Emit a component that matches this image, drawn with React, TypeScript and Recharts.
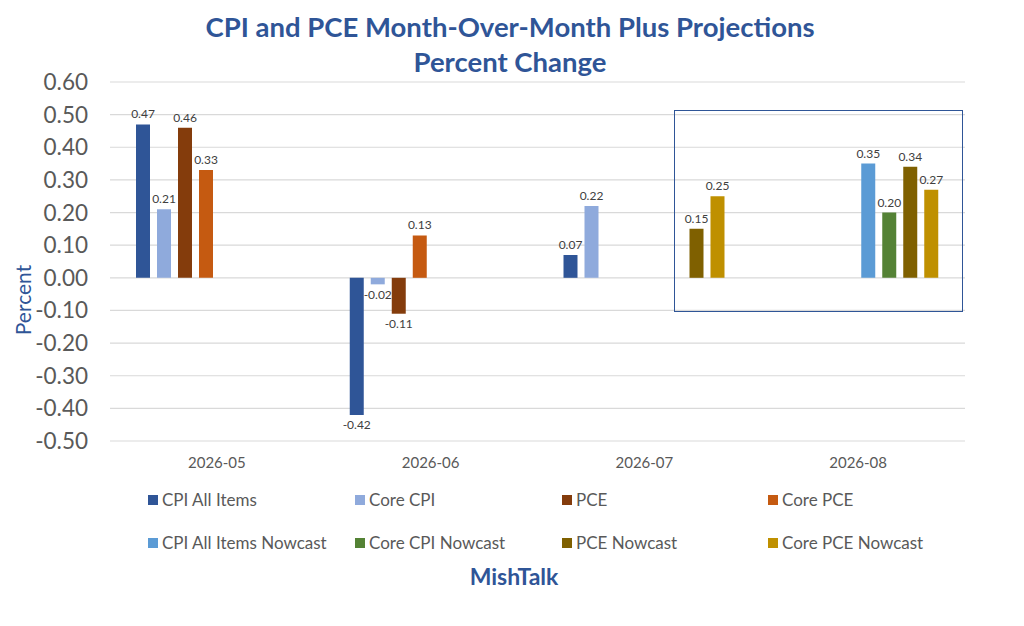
import React from "react";
import { BarChart, Bar, XAxis, YAxis, CartesianGrid, LabelList } from "recharts";

const months = ["2026-05", "2026-06", "2026-07", "2026-08"];

const cpiAll = [0.47, -0.42, 0.07, null];
const coreCpi = [0.21, -0.02, 0.22, null];
const pce = [0.46, -0.11, null, null];
const corePce = [0.33, 0.13, null, null];
const cpiNowcast = [null, null, null, 0.35];
const coreCpiNowcast = [null, null, null, 0.2];
const pceNowcast = [null, null, 0.15, 0.34];
const corePceNowcast = [null, null, 0.25, 0.27];

const yTicks = [-0.5, -0.4, -0.3, -0.2, -0.1, 0, 0.1, 0.2, 0.3, 0.4, 0.5, 0.6];

const series = [
  { key: "cpiAll", name: "CPI All Items", values: cpiAll, color: "#2F5597" },
  { key: "coreCpi", name: "Core CPI", values: coreCpi, color: "#8FAADC" },
  { key: "pce", name: "PCE", values: pce, color: "#843C0C" },
  { key: "corePce", name: "Core PCE", values: corePce, color: "#C55A11" },
  { key: "cpiNowcast", name: "CPI All Items Nowcast", values: cpiNowcast, color: "#5B9BD5" },
  { key: "coreCpiNowcast", name: "Core CPI Nowcast", values: coreCpiNowcast, color: "#548235" },
  { key: "pceNowcast", name: "PCE Nowcast", values: pceNowcast, color: "#7F6000" },
  { key: "corePceNowcast", name: "Core PCE Nowcast", values: corePceNowcast, color: "#BF9000" },
];

const data = months.map((m, i) => {
  const row: Record<string, string | number | null> = { month: m };
  series.forEach((s) => {
    row[s.key] = s.values[i];
  });
  return row;
});

const FONT = "Lato, 'Open Sans', sans-serif";
const BLUE = "#2F5597";
const GRAY = "#595959";

// legend column positions (left edge of the swatch)
const legendCols = [148, 355, 562, 768];
const legendRows = [500, 543];

export default function App() {
  return (
    <div
      style={{
        position: "absolute",
        left: 0,
        top: 0,
        width: 1024,
        height: 626,
        background: "#fff",
        fontFamily: FONT,
        overflow: "hidden",
      }}
    >
      <div
        style={{
          position: "absolute",
          top: 9,
          left: 0,
          width: 1024,
          textAlign: "center",
          color: BLUE,
          fontWeight: 700,
          fontSize: 27.5,
          lineHeight: "35px",
        }}
      >
        <div style={{ marginLeft: -4 }}>CPI and PCE Month-Over-Month Plus Projections</div>
        <div style={{ marginLeft: -4 }}>Percent Change</div>
      </div>

      <div
        style={{
          position: "absolute",
          left: 22,
          top: 300,
          transform: "translate(-50%, -50%) rotate(-90deg)",
          color: BLUE,
          fontSize: 21,
          whiteSpace: "nowrap",
        }}
      >
        Percent
      </div>

      <div style={{ position: "absolute", left: 0, top: 0 }}>
        <BarChart
          width={1024}
          height={490}
          data={data}
          margin={{ top: 82, right: 59, left: 0, bottom: 9 }}
          barSize={14}
          barGap={7}
        >
          <CartesianGrid vertical={false} stroke="#D9D9D9" strokeWidth={1.2} />
          <XAxis
            dataKey="month"
            height={40}
            tickLine={false}
            axisLine={false}
            tickMargin={10}
            tick={{ fontSize: 15, fill: GRAY, fontFamily: FONT }}
          />
          <YAxis
            width={110}
            domain={[-0.5, 0.6]}
            ticks={yTicks}
            interval={0}
            allowDataOverflow
            tickLine={false}
            axisLine={false}
            tickMargin={16}
            tickFormatter={(v: number) => v.toFixed(2)}
            tick={{ fontSize: 22.5, fill: GRAY, fontFamily: FONT }}
          />
          {series.map((s) => (
            <Bar key={s.key} dataKey={s.key} name={s.name} fill={s.color} isAnimationActive={false}>
              <LabelList
                dataKey={s.key}
                position="top"
                offset={6}
                formatter={(v: unknown) => (v == null || v === "" ? "" : Number(v).toFixed(2))}
                style={{ fontSize: 12, fill: "#404040", fontFamily: FONT }}
              />
            </Bar>
          ))}
        </BarChart>
      </div>

      {/* projection box */}
      <div
        style={{
          position: "absolute",
          left: 674,
          top: 110,
          width: 289,
          height: 202,
          border: `1.5px solid ${BLUE}`,
          boxSizing: "border-box",
        }}
      />

      {series.map((s, i) => (
        <div
          key={s.key}
          style={{
            position: "absolute",
            left: legendCols[i % 4],
            top: legendRows[Math.floor(i / 4)] - 11,
            display: "flex",
            alignItems: "center",
            color: GRAY,
            fontSize: 17,
            whiteSpace: "nowrap",
          }}
        >
          <span style={{ width: 10, height: 10, background: s.color, marginRight: 4, display: "inline-block" }} />
          {s.name}
        </div>
      ))}

      <div
        style={{
          position: "absolute",
          top: 562,
          left: 0,
          width: 1024,
          textAlign: "center",
          color: BLUE,
          fontWeight: 700,
          fontSize: 23,
        }}
      >
        <span style={{ marginLeft: 4 }}>MishTalk</span>
      </div>
    </div>
  );
}
